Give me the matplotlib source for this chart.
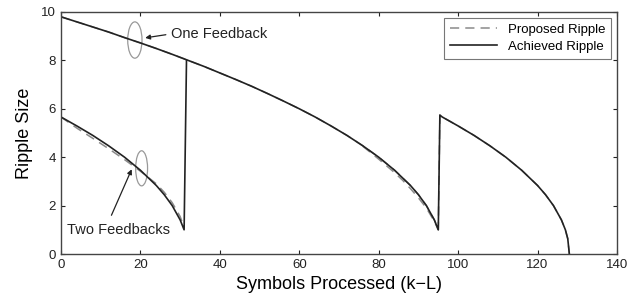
import matplotlib
matplotlib.use("Agg")
import matplotlib.pyplot as plt
from matplotlib.patches import Ellipse

plt.rcParams['font.family'] = ['Liberation Sans', 'DejaVu Sans']

# Achieved ripple, one feedback (upper curve, with its jump near 95)
one_x = [0, 4, 8, 12, 16, 20, 24, 28, 32, 36, 40, 44, 48, 52, 56, 60, 64, 68,
         72, 76, 80, 84, 88, 90, 92, 94, 95, 95.4, 96, 100, 104, 108, 112, 116,
         120, 122, 124, 126, 127, 127.6, 128]
one_y = [9.80, 9.59, 9.38, 9.17, 8.94, 8.72, 8.49, 8.25, 8.00, 7.75, 7.48, 7.21,
         6.93, 6.63, 6.32, 6.00, 5.66, 5.29, 4.90, 4.47, 4.00, 3.46, 2.83, 2.45,
         2.00, 1.41, 1.00, 5.74, 5.66, 5.29, 4.90, 4.47, 4.00, 3.46, 2.83, 2.45,
         2.00, 1.41, 1.00, 0.63, 0.0]

# Achieved ripple, two feedbacks (lower curve, joins upper one at 32)
two_x = [0, 4, 8, 12, 16, 20, 24, 26, 28, 30, 31, 31.6]
two_y = [5.66, 5.29, 4.90, 4.47, 4.00, 3.46, 2.83, 2.45, 2.00, 1.41, 1.00, 8.00]

# Proposed ripple (dashed) where it departs from the achieved one
prop_two_x = [0, 4, 8, 12, 16, 20, 24, 26, 28, 30, 31]
prop_two_y = [5.66, 5.20, 4.78, 4.35, 3.90, 3.42, 2.90, 2.55, 2.12, 1.55, 1.10]
prop_mid_x = [76, 80, 84, 86, 88, 90, 92, 94, 95]
prop_mid_y = [4.45, 3.92, 3.36, 3.05, 2.70, 2.32, 1.90, 1.35, 1.00]

fig = plt.figure(figsize=(6.34, 2.99), dpi=100)
ax = fig.add_axes([0.0962, 0.1505, 0.8770, 0.8095])

dash_c = '#8a8a8a'
line_c = '#222222'
ax.plot(one_x, one_y, '--', color=dash_c, lw=1.1, dashes=(6, 4), label='Proposed Ripple')
ax.plot(prop_two_x, prop_two_y, '--', color=dash_c, lw=1.1, dashes=(6, 4))
ax.plot(prop_mid_x, prop_mid_y, '--', color=dash_c, lw=1.1, dashes=(6, 4))
ax.plot(one_x, one_y, '-', color=line_c, lw=1.2, label='Achieved Ripple')
ax.plot(two_x, two_y, '-', color=line_c, lw=1.2)

ax.set_xlim(0, 140)
ax.set_ylim(0, 10)
ax.set_xticks(range(0, 141, 20))
ax.set_yticks(range(0, 11, 2))
ax.tick_params(direction='in', length=3, top=True, right=True, labelsize=9.5,
               colors='#222222')
for s in ax.spines.values():
    s.set_color('#444444')
    s.set_linewidth(1.0)

ax.set_xlabel('Symbols Processed (k\u2212L)', fontsize=13, labelpad=4)
ax.set_ylabel('Ripple Size', fontsize=13, labelpad=6)

# annotation loops
ax.add_patch(Ellipse((18.6, 8.84), 3.6, 1.5, fill=False, ec='#999999', lw=0.9))
ax.add_patch(Ellipse((20.3, 3.54), 3.0, 1.45, fill=False, ec='#999999', lw=0.9))

ax.text(27.8, 9.1, 'One Feedback', fontsize=10.5, va='center', ha='left',
        color='#222222')
ax.annotate('', xy=(21.2, 8.93), xytext=(26.4, 9.06),
            arrowprops=dict(arrowstyle='-|>', color='#222222', lw=0.9,
                            mutation_scale=7, shrinkA=0, shrinkB=0))
ax.text(1.5, 1.0, 'Two Feedbacks', fontsize=10.5, va='center', ha='left',
        color='#222222')
ax.annotate('', xy=(17.8, 3.5), xytext=(12.7, 1.6),
            arrowprops=dict(arrowstyle='-|>', color='#222222', lw=0.9,
                            mutation_scale=7, shrinkA=0, shrinkB=0))

leg = ax.legend(loc='upper right', fontsize=9.5, frameon=True, fancybox=False,
                edgecolor='#555555', borderpad=0.45, labelspacing=0.35,
                handlelength=3.6, borderaxespad=0.45)
leg.get_frame().set_linewidth(0.8)

fig.savefig('out.png', dpi=100)
